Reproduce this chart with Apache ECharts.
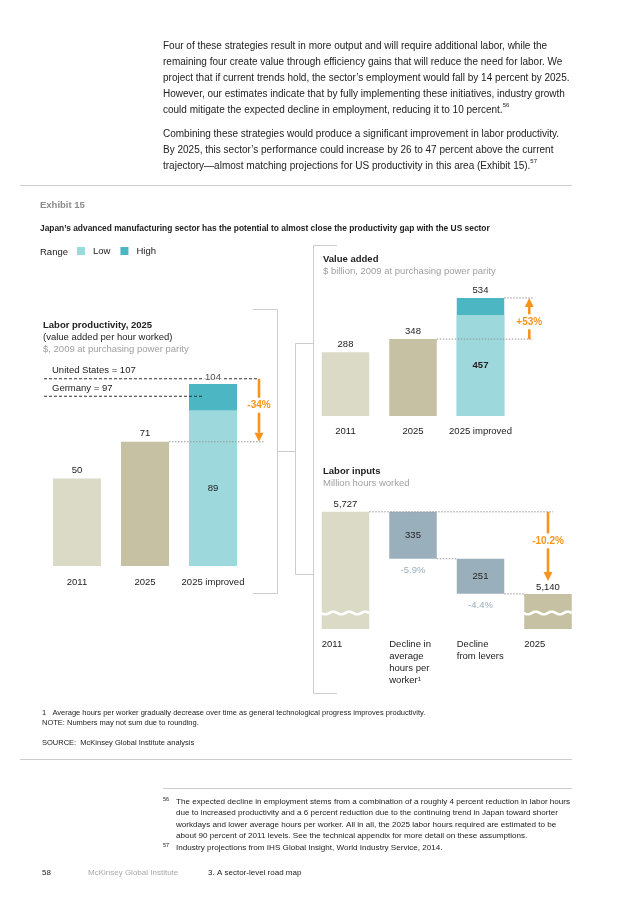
<!DOCTYPE html>
<html><head><meta charset="utf-8">
<script src="https://cdn.jsdelivr.net/npm/echarts@6/dist/echarts.min.js"></script>
<style>html,body{margin:0;padding:0;background:#fff}#c{width:636px;height:900px}</style>
</head><body><div id="c"></div>
<script>
// ---------- DATA ----------
const prodCategories = ['2011', '2025', '2025 improved'];
const prodValues = [50, 71, null];
const prodLow = [null, null, 89];
const prodHigh = [null, null, 104];
const refLines = [{label: 'United States = 107', value: 107}, {label: 'Germany = 97', value: 97}];
const prodChange = '-34%';

const vaCategories = ['2011', '2025', '2025 improved'];
const vaValues = [288, 348, null];
const vaLow = [null, null, 457];
const vaHigh = [null, null, 534];
const vaChange = '+53%';

const laborCategories = ['2011', 'Decline in\naverage\nhours per\nworker¹', 'Decline\nfrom levers', '2025'];
const laborStart = 5727;
const laborDeclines = [335, 251];
const laborDeclinePct = ['-5.9%', '-4.4%'];
const laborEnd = 5140;
const laborChange = '-10.2%';

const para1 = ['Four of these strategies result in more output and will require additional labor, while the',
  'remaining four create value through efficiency gains that will reduce the need for labor. We',
  'project that if current trends hold, the sector’s employment would fall by 14 percent by 2025.',
  'However, our estimates indicate that by fully implementing these initiatives, industry growth',
  'could mitigate the expected decline in employment, reducing it to 10 percent.{sup|56}'];
const para2 = ['Combining these strategies would produce a significant improvement in labor productivity.',
  'By 2025, this sector’s performance could increase by 26 to 47 percent above the current',
  'trajectory—almost matching projections for US productivity in this area (Exhibit 15).{sup|57}'];
const note56 = ['The expected decline in employment stems from a combination of a roughly 4 percent reduction in labor hours',
  'due to increased productivity and a 6 percent reduction due to the continuing trend in Japan toward shorter',
  'workdays and lower average hours per worker. All in all, the 2025 labor hours required are estimated to be',
  'about 90 percent of 2011 levels. See the technical appendix for more detail on these assumptions.'];
const note57 = 'Industry projections from IHS Global Insight, World Industry Service, 2014.';

// ---------- STYLE ----------
const FONT = '"Liberation Sans", Arial, Helvetica, sans-serif';
const C = {y2011: '#dbdac6', y2025: '#c5c1a2', low: '#9dd8dc', high: '#4cb7c3', decline: '#9aafbc',
  declineText: '#7d97a8', orange: '#f7941d', text: '#222', sub: '#a0a0a0', dot: '#999', rule: '#cccccc'};
const FS = 9.5;
const BW0 = 48, BW1 = 47.5;
const lab = (extra) => Object.assign({show: true, color: C.text, fontSize: FS, fontFamily: FONT}, extra);

const chart = echarts.init(document.getElementById('c'), null, {renderer: 'canvas', width: 636, height: 900});

const catAxis = (gi, data, margin, showLabel) => ({
  type: 'category', gridIndex: gi, data: data,
  axisLine: {show: false}, axisTick: {show: false}, splitLine: {show: false},
  axisLabel: {show: showLabel, interval: 0, hideOverlap: false, margin: margin, color: C.text, fontSize: FS, fontFamily: FONT}
});
const valAxis = (gi, min, max) => ({type: 'value', gridIndex: gi, min: min, max: max, show: false, splitLine: {show: false}});

const laborBase = [null, laborStart - laborDeclines[0], laborStart - laborDeclines[0] - laborDeclines[1], null];
const laborBars = [laborStart, laborDeclines[0], laborDeclines[1], laborEnd];
const fmt = v => Number(v).toLocaleString('en-US');

const option = {
  animation: false,
  backgroundColor: '#fff',
  textStyle: {fontFamily: FONT},
  grid: [
    {left: 43, top: 373.5, width: 204, height: 192.5, outerBoundsMode: 'none'},
    {left: 311.75, top: 292.2, width: 202.5, height: 123.8, outerBoundsMode: 'none'},
    {left: 311.75, top: 501.6, width: 270, height: 127.4, outerBoundsMode: 'none'}
  ],
  xAxis: [catAxis(0, prodCategories, 11.5, true), catAxis(1, vaCategories, 10.5, true), catAxis(2, laborCategories, 10, false)],
  yAxis: [valAxis(0, 0, 110), valAxis(1, 0, 560), valAxis(2, 4890, 5800)],
  legend: {data: ['Low', 'High'], left: 77, top: 246, padding: 0, itemWidth: 8, itemHeight: 8, itemGap: 10, icon: 'rect',
    selectedMode: false, itemStyle: {borderWidth: 0},
    textStyle: {fontSize: FS, color: C.text, fontFamily: FONT, padding: [0, 0, 0, 3]}},
  series: [
    // productivity
    {name: 'High', type: 'bar', xAxisIndex: 0, yAxisIndex: 0, data: prodHigh, barWidth: BW0, barGap: '-100%', itemStyle: {color: C.high}, z: 2},
    {name: 'Low', type: 'bar', xAxisIndex: 0, yAxisIndex: 0, data: prodLow, barWidth: BW0, barGap: '-100%', itemStyle: {color: C.low}, z: 2,
      label: lab({position: 'inside'})},
    {name: 'prod', type: 'bar', xAxisIndex: 0, yAxisIndex: 0, barWidth: BW0, barGap: '-100%', z: 2,
      data: prodValues.map((v, i) => ({value: v, itemStyle: {color: i === 0 ? C.y2011 : C.y2025}})),
      label: lab({position: 'top', distance: 3})},
    {name: 'prodTop', type: 'scatter', xAxisIndex: 0, yAxisIndex: 0, data: [[2, prodHigh[2]]], symbolSize: 1, z: 6,
      itemStyle: {color: 'rgba(0,0,0,0)'},
      label: lab({position: 'top', distance: 1, formatter: p => p.value[1], backgroundColor: '#fff', padding: [0, 2]})},
    // value added
    {name: 'High', type: 'bar', xAxisIndex: 1, yAxisIndex: 1, data: vaHigh, barWidth: BW1, barGap: '-100%', itemStyle: {color: C.high}, z: 2,
      label: lab({position: 'top', distance: 3})},
    {name: 'Low', type: 'bar', xAxisIndex: 1, yAxisIndex: 1, data: vaLow, barWidth: BW1, barGap: '-100%', itemStyle: {color: C.low}, z: 2,
      label: lab({position: 'inside', fontWeight: 'bold'})},
    {name: 'va', type: 'bar', xAxisIndex: 1, yAxisIndex: 1, barWidth: BW1, barGap: '-100%', z: 2,
      data: vaValues.map((v, i) => ({value: v, itemStyle: {color: i === 0 ? C.y2011 : C.y2025}})),
      label: lab({position: 'top', distance: 3})},
    // labor inputs waterfall
    {name: 'lbBase', type: 'bar', xAxisIndex: 2, yAxisIndex: 2, stack: 'w', data: laborBase, barWidth: BW1, clip: true,
      itemStyle: {color: 'rgba(0,0,0,0)'}, z: 2},
    {name: 'lbBar', type: 'bar', xAxisIndex: 2, yAxisIndex: 2, stack: 'w', barWidth: BW1, clip: true, z: 2,
      data: laborBars.map((v, i) => ({
        value: v,
        itemStyle: {color: i === 0 ? C.y2011 : (i === 3 ? C.y2025 : C.decline)},
        label: (i === 0 || i === 3) ? {position: 'top', distance: 2} : {position: 'inside'}
      })),
      label: lab({formatter: p => (p.dataIndex === 0 || p.dataIndex === 3) ? fmt(p.value) : p.value})},
    {name: 'lbPct', type: 'scatter', xAxisIndex: 2, yAxisIndex: 2, symbolSize: 1, z: 6, itemStyle: {color: 'rgba(0,0,0,0)'},
      data: [[1, laborBase[1]], [2, laborBase[2]]],
      label: lab({position: 'bottom', distance: 6, color: C.declineText, formatter: p => laborDeclinePct[p.dataIndex]})}
  ]
};
chart.setOption(option);

// ---------- ANNOTATIONS (positions from the chart's scales) ----------
const P = (g, c, v) => chart.convertToPixel({gridIndex: g}, [c, v]);
const G = [];
const line = (x1, y1, x2, y2, st, z) => G.push({type: 'line', z: z || 3, shape: {x1, y1, x2, y2}, style: st});
const DOT = {stroke: C.dot, lineWidth: 1, lineDash: [1.5, 1.5]};
const DASH = {stroke: '#333', lineWidth: 1, lineDash: [3, 2]};
const RULE = {stroke: C.rule, lineWidth: 1};
const text = (x, y, t, o) => G.push({type: 'text', x, y, z: 10, style: Object.assign({text: t, fill: C.text, fontSize: FS, fontFamily: FONT, align: 'left', verticalAlign: 'middle'}, o || {})});

function arrow(x, tail, tip, label) {
  const dir = Math.sign(tip - tail), len = Math.abs(tip - tail);
  const ly = tail + dir * 0.42 * len, headLen = 9, hw = 4.5, gap = 7.5;
  const st = {stroke: C.orange, lineWidth: 2.6};
  line(x, tail, x, ly - dir * gap, st, 4);
  line(x, ly + dir * gap, x, tip - dir * headLen, st, 4);
  G.push({type: 'polygon', z: 4, shape: {points: [[x - hw, tip - dir * headLen], [x + hw, tip - dir * headLen], [x, tip]]}, style: {fill: C.orange}});
  text(x, ly, label, {align: 'center', fill: C.orange, fontWeight: 'bold', fontSize: 10});
}

// productivity chart
const pX = i => P(0, i, 0)[0];
const pArrowX = pX(2) + BW0 / 2 + 22;
refLines.forEach((r, k) => {
  const y = P(0, 0, r.value)[1];
  line(44, y, k === 0 ? pArrowX : pX(2) - 10, y, DASH, 3);
  text(52, y - 8, r.label);
});
const y71 = P(0, 1, prodValues[1])[1];
line(pX(1) + BW0 / 2, y71, pArrowX + 6, y71, DOT);
arrow(pArrowX, P(0, 0, refLines[0].value)[1], y71, prodChange);

// value added chart
const vX = i => P(1, i, 0)[0];
const vArrowX = vX(2) + BW1 / 2 + 25;
const y348 = P(1, 1, vaValues[1])[1], y534 = P(1, 2, vaHigh[2])[1];
line(vX(1) + BW1 / 2, y348, vArrowX + 4, y348, DOT);
line(vX(2) + BW1 / 2, y534, vArrowX + 4, y534, DOT);
arrow(vArrowX, y348, y534, vaChange);

// labor chart
const lX = i => P(2, i, laborStart)[0];
const yS = P(2, 0, laborStart)[1];
const yBottom = P(2, 0, 4890)[1];
line(lX(0) + BW1 / 2, yS, lX(3) + 5, yS, DOT);
const yb1 = P(2, 1, laborBase[1])[1], yb2 = P(2, 2, laborBase[2])[1];
line(lX(1) + BW1 / 2, yb1, lX(2) - BW1 / 2, yb1, DOT);
line(lX(2) + BW1 / 2, yb2, lX(3) - BW1 / 2, yb2, DOT);
arrow(lX(3), yS, P(2, 3, laborEnd)[1] - 13, laborChange);
[0, 3].forEach(i => {
  const x0 = lX(i) - BW1 / 2 - 0.5, x1 = lX(i) + BW1 / 2 + 0.5, yc = yBottom - 16, pts = [];
  for (let x = x0; x <= x1 + 0.01; x += 1) pts.push([x, yc + 1.3 * Math.sin(2 * Math.PI * (x - x0) / 16)]);
  G.push({type: 'polyline', z: 5, shape: {points: pts}, style: {stroke: '#fff', lineWidth: 2.6, fill: null}});
});
laborCategories.forEach((c, i) => {
  G.push({type: 'text', x: lX(i) - BW1 / 2, y: yBottom + 10, z: 10,
    style: {text: c, fill: C.text, fontSize: FS, fontFamily: FONT, lineHeight: 11.7, align: 'left', verticalAlign: 'top'}});
});

// page text
const supRich = {sup: {fontSize: 6, verticalAlign: 'top', fill: C.text, fontFamily: FONT}};
G.push({type: 'text', x: 163, y: 38, z: 10, style: {text: para1.join('\n'), fill: C.text, fontSize: 10, fontFamily: FONT, lineHeight: 16, verticalAlign: 'top', rich: supRich}});
G.push({type: 'text', x: 163, y: 126, z: 10, style: {text: para2.join('\n'), fill: C.text, fontSize: 10, fontFamily: FONT, lineHeight: 16, verticalAlign: 'top', rich: supRich}});
line(20, 185.5, 572, 185.5, RULE, 1);
text(40, 205, 'Exhibit 15', {fill: '#8c8c8c', fontWeight: 'bold'});
text(40, 228.3, 'Japan’s advanced manufacturing sector has the potential to almost close the productivity gap with the US sector', {fontWeight: 'bold', fontSize: 8.4});
text(40, 252, 'Range');

text(43, 325, 'Labor productivity, 2025', {fontWeight: 'bold'});
text(43, 337, '(value added per hour worked)');
text(43, 349, '$, 2009 at purchasing power parity', {fill: C.sub});
text(323, 259.5, 'Value added', {fontWeight: 'bold'});
text(323, 271.5, '$ billion, 2009 at purchasing power parity', {fill: C.sub});
text(323, 471, 'Labor inputs', {fontWeight: 'bold'});
text(323, 483, 'Million hours worked', {fill: C.sub});

// connecting brackets
const BR = {stroke: C.rule, lineWidth: 1};
line(253, 309.5, 277.5, 309.5, BR, 1); line(277.5, 309.5, 277.5, 593.5, BR, 1); line(253, 593.5, 277.5, 593.5, BR, 1);
line(277.5, 451.5, 295.5, 451.5, BR, 1);
line(295.5, 343.5, 295.5, 574.5, BR, 1);
line(295.5, 343.5, 313.5, 343.5, BR, 1); line(295.5, 574.5, 313.5, 574.5, BR, 1);
line(313.5, 245.5, 313.5, 693.5, BR, 1);
line(313.5, 245.5, 337, 245.5, BR, 1); line(313.5, 693.5, 337, 693.5, BR, 1);

// notes
text(42, 712.7, '1   Average hours per worker gradually decrease over time as general technological progress improves productivity.', {fontSize: 7.5});
text(42, 723.3, 'NOTE: Numbers may not sum due to rounding.', {fontSize: 7.5});
text(42, 742.7, 'SOURCE:  McKinsey Global Institute analysis', {fontSize: 7.5});
line(20, 759.5, 572, 759.5, RULE, 1);
line(163, 788.5, 572, 788.5, RULE, 1);
note56.forEach((t, i) => text(176, 801.5 + i * 11.5, t, {fontSize: 8.1}));
text(163, 799, '56', {fontSize: 5.5});
text(163, 845, '57', {fontSize: 5.5});
text(176, 847.5, note57, {fontSize: 8.1});
text(42, 873, '58', {fontSize: 8});
text(88, 873, 'McKinsey Global Institute', {fontSize: 8, fill: '#a8a8a8'});
text(208, 873, '3. A sector-level road map', {fontSize: 8});

chart.setOption({graphic: G});
</script>
</body></html>
